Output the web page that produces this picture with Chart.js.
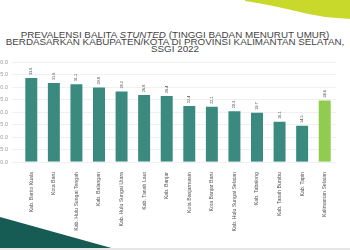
<!DOCTYPE html>
<html lang="id">
<head>
<meta charset="UTF-8">
<title>Prevalensi Balita Stunted</title>
<script src="https://cdn.jsdelivr.net/npm/chart.js"></script>
<style>
  html,body{margin:0;padding:0;background:#fff;overflow:hidden}
  #wrap{position:relative;width:350px;height:250px}
  #deco{position:absolute;left:0;top:0}
  #title{position:absolute;left:0;top:31.5px;width:350px;text-align:center;
    font:9px/7.4px "Liberation Sans",Arial,sans-serif;color:#444;
    transform:scaleX(1.09);transform-origin:175px 0}
  #box{position:absolute;left:0;top:0;width:350px;height:250px}
</style>
</head>
<body>
<div id="wrap">
  <svg id="deco" width="350" height="250">
    <path d="M245 1 C275 5 300 13 325 17 L350 19 L350 0 L245 0 Z" fill="#c8d92c"/>
    <path d="M0 217 L115 249 L0 249 Z" fill="#165c55"/>
    <rect x="0" y="248" width="350" height="2" fill="#e6e6e6"/>
  </svg>
  <div id="title">PREVALENSI BALITA <i>STUNTED</i> (TINGGI BADAN MENURUT UMUR)<br>BERDASARKAN KABUPATEN/KOTA DI PROVINSI KALIMANTAN SELATAN,<br>SSGI 2022</div>
  <div id="box"><canvas id="chart"></canvas></div>
</div>
<script>
const regions = ['Kab. Barito Kuala','Kota Baru','Kab. Hulu Sungai Tengah','Kab. Balangan',
  'Kab. Hulu Sungai Utara','Kab. Tanah Laut','Kab. Banjar','Kota Banjarmasin','Kota Banjar Baru',
  'Kab. Hulu Sungai Selatan','Kab. Tabalong','Kab. Tanah Bumbu','Kab. Tapin','Kalimantan Selatan'];
const prevalence = [33.6,31.6,31.1,29.8,28.2,26.8,26.4,22.4,22.1,20.3,19.7,16.1,14.5,24.6];
const yTicks = [0,5,10,15,20,25,30,35,40];

const barColors = regions.map(r => r === 'Kalimantan Selatan' ? '#8fcc4f' : '#3b8a7f');

// value labels drawn vertically above each bar
const valueLabels = {
  id:'valueLabels',
  afterDatasetsDraw(c){
    const ctx = c.ctx;
    c.getDatasetMeta(0).data.forEach((bar,i) => {
      ctx.save();
      ctx.translate(bar.x, bar.y - 3);
      ctx.rotate(-Math.PI/2);
      ctx.font = '3.8px "Liberation Sans",Arial,sans-serif';
      ctx.fillStyle = '#444';
      ctx.textAlign = 'left';
      ctx.textBaseline = 'middle';
      ctx.fillText(prevalence[i].toFixed(1), 0, 0);
      ctx.restore();
    });
  }
};

new Chart(document.getElementById('chart'), {
  type:'bar',
  data:{
    labels:regions,
    datasets:[{data:prevalence, backgroundColor:barColors,
      categoryPercentage:1, barPercentage:0.53}]
  },
  options:{
    responsive:true, maintainAspectRatio:false, animation:false,
    layout:{padding:{top:62,right:14,left:0,bottom:0}},
    plugins:{legend:{display:false}, tooltip:{enabled:false}},
    scales:{
      x:{
        grid:{display:false}, border:{display:false},
        ticks:{minRotation:90, maxRotation:90, autoSkip:false, padding:2,
          color:'#555', font:{size:5.2, family:'"Liberation Sans",Arial,sans-serif'}},
        afterFit(s){ s.height = 88; }
      },
      y:{
        min:0, max:40,
        afterBuildTicks(s){ s.ticks = yTicks.map(v => ({value:v})); },
        grid:{color:'#ececec', lineWidth:0.8}, border:{display:false},
        ticks:{color:'#999', padding:4, callback:v => v.toFixed(1),
          font:{size:5.5, family:'"Liberation Sans",Arial,sans-serif'}},
        afterFit(s){ s.width = 20; }
      }
    }
  },
  plugins:[valueLabels]
});
</script>
</body>
</html>
